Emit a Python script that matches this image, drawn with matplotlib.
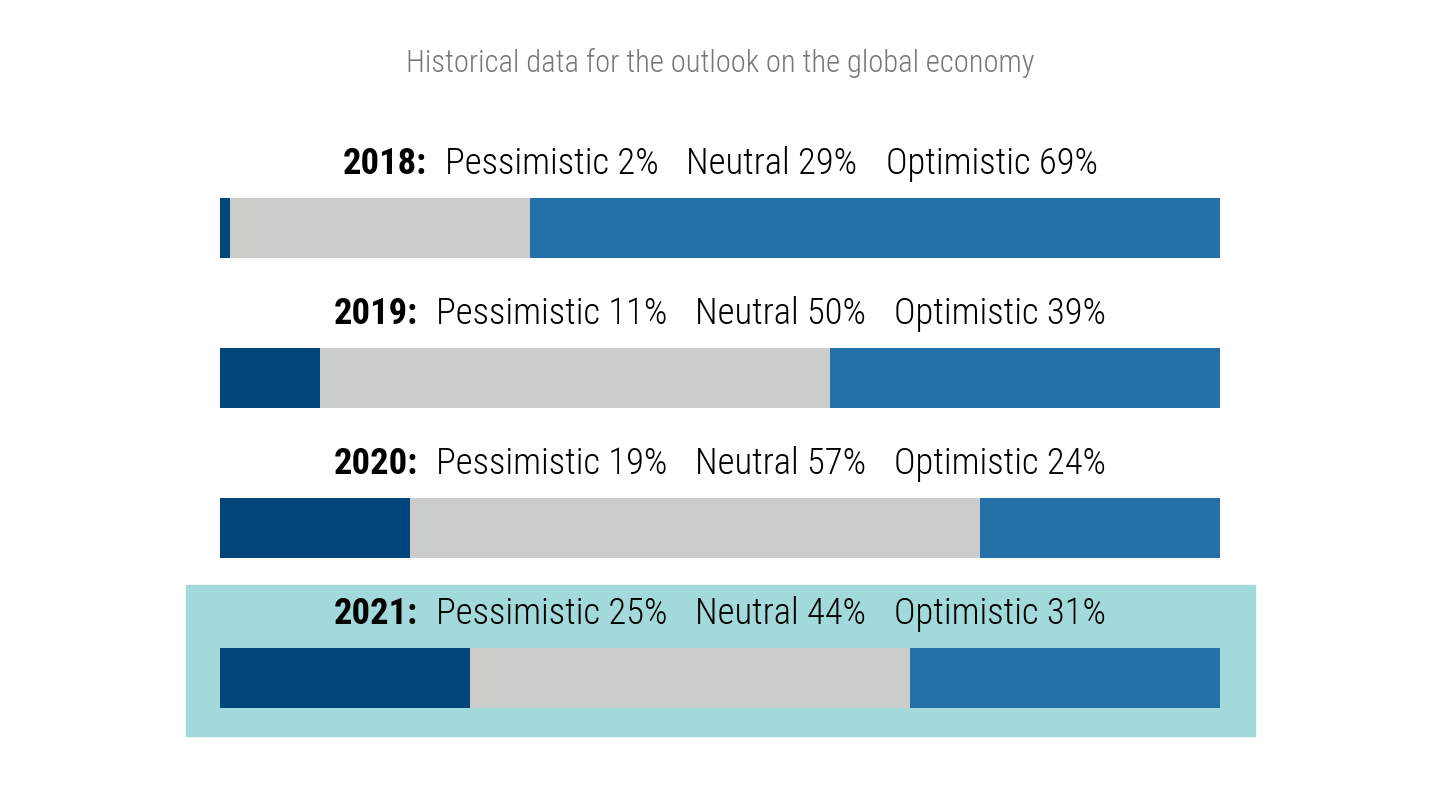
"""
Historical outlook on the global economy, one stacked bar per year.
"""

import matplotlib
matplotlib.use("Agg")
from matplotlib import pyplot as plt
from matplotlib import font_manager
from matplotlib.patches import Rectangle

years = ["2018", "2019", "2020", "2021"]
# percentages printed in the labels
pess_label = [2, 11, 19, 25]
neut_label = [29, 50, 57, 44]
opti_label = [69, 39, 24, 31]
# segment lengths as they are drawn in the bars
pess_bar = [1, 10, 19, 25]
neut_bar = [30, 51, 57, 44]
opti_bar = [69, 39, 24, 31]
highlight_year = "2021"
title = "Historical data for the outlook on the global economy"

DARK = "#00467a"
GREY = "#cbcdcb"
MID = "#2570a8"
TEAL = "#a2d9db"

# pick a narrow family if one is there
names = {f.name for f in font_manager.fontManager.ttflist}
font = "DejaVu Sans"
for cand in ["Roboto Condensed", "Liberation Sans Narrow", "Open Sans", "Roboto", "Lato"]:
    if cand in names:
        font = cand
        break
plt.rcParams["font.family"] = [font, "DejaVu Sans"]

fig = plt.figure(figsize=(14.4, 8.1), dpi=100)
ax = fig.add_axes([220 / 1440, 0, 1000 / 1440, 1])
ax.set_xlim(0, 100)
ax.set_ylim(3.88, -1.52)
ax.axis("off")

ypos = list(range(len(years)))
left2 = [p for p in pess_bar]
left3 = [p + n for p, n in zip(pess_bar, neut_bar)]
ax.barh(ypos, pess_bar, height=0.4, color=DARK, zorder=2)
ax.barh(ypos, neut_bar, left=left2, height=0.4, color=GREY, zorder=2)
ax.barh(ypos, opti_bar, left=left3, height=0.4, color=MID, zorder=2)

hi = years.index(highlight_year)
ax.add_patch(Rectangle((-3.4, hi - 0.62), 106.9, 1.007, color=TEAL,
                       zorder=0, clip_on=False))

renderer = fig.canvas.get_renderer()


def width_of(txt):
    return txt.get_window_extent(renderer).width


def place_row(pieces, gaps, y, size):
    # pieces: list of (string, weight); laid out left to right, centred
    txts = [ax.text(0, y, s, fontsize=size, fontweight=w, va="baseline",
                    ha="left", color="black", zorder=3) for s, w in pieces]
    widths = [width_of(t) for t in txts]
    total = sum(widths) + sum(gaps)
    cx, cy = ax.transData.transform((50, y))
    x = cx - total / 2
    for i, t in enumerate(txts):
        t.set_x(ax.transData.inverted().transform((x, cy))[0])
        x += widths[i] + (gaps[i] if i < len(gaps) else 0)
    return txts, sum(widths)


gaps = [18, 28, 28]
rows = []
for i, yr in enumerate(years):
    rows.append([(yr + ":", "bold"),
                 ("Pessimistic %d%%" % pess_label[i], "light"),
                 ("Neutral %d%%" % neut_label[i], "light"),
                 ("Optimistic %d%%" % opti_label[i], "light")])

# fit the font size so the first row spans about 754 px
probe, w = place_row(rows[0], gaps, -0.36, 22)
for t in probe:
    t.remove()
size = 22 * (754 - sum(gaps)) / w

for i, pieces in enumerate(rows):
    place_row(pieces, gaps, i - 0.36, size)

t = ax.text(50, -1.04, title, fontsize=16, color="#777777", ha="center",
            va="baseline", fontweight="light")
tsize = 16 * 629 / width_of(t)
t.set_fontsize(tsize)

fig.savefig("out.png", dpi=100, facecolor="white")
